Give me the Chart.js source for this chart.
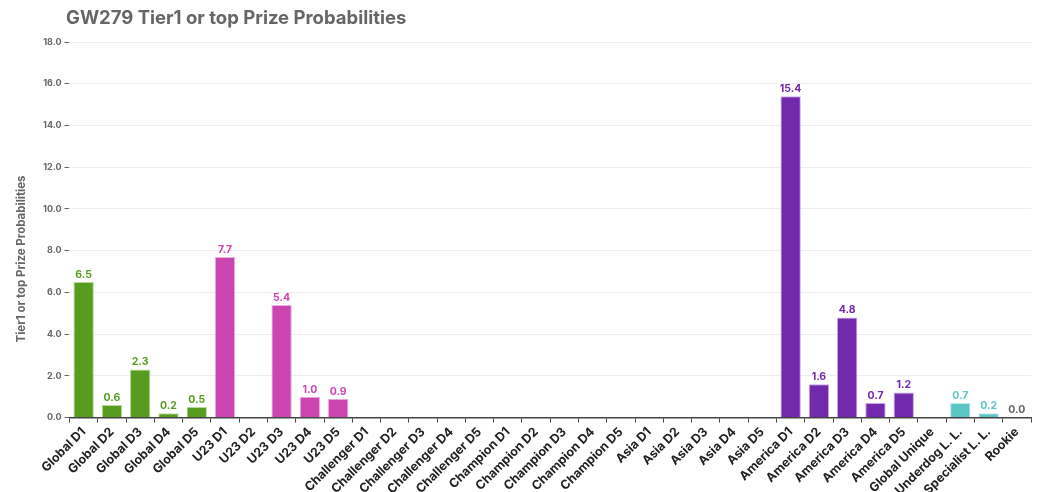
<!DOCTYPE html>
<html>
<head>
<meta charset="utf-8">
<title>GW279 Tier1 or top Prize Probabilities</title>
<script src="https://cdn.jsdelivr.net/npm/chart.js@4/dist/chart.umd.min.js"></script>
<style>
    html, body { margin: 0; padding: 0; background: #fff; }
    #wrap { width: 1050px; height: 492px; position: relative; }
</style>
</head>
<body>
<div id="wrap"><canvas id="probChart"></canvas></div>
<script>
// Categories and values
const categories = [
    'Global D1', 'Global D2', 'Global D3', 'Global D4', 'Global D5',
    'U23 D1', 'U23 D2', 'U23 D3', 'U23 D4', 'U23 D5',
    'Challenger D1', 'Challenger D2', 'Challenger D3', 'Challenger D4', 'Challenger D5',
    'Champion D1', 'Champion D2', 'Champion D3', 'Champion D4', 'Champion D5',
    'Asia D1', 'Asia D2', 'Asia D3', 'Asia D4', 'Asia D5',
    'America D1', 'America D2', 'America D3', 'America D4', 'America D5',
    'Global Unique', 'Underdog L. L.', 'Specialist L. L.', 'Rookie'
];
const probabilities = [
    6.5, 0.6, 2.3, 0.2, 0.5,
    7.7, 0, 5.4, 1.0, 0.9,
    0, 0, 0, 0, 0,
    0, 0, 0, 0, 0,
    0, 0, 0, 0, 0,
    15.4, 1.6, 4.8, 0.7, 1.2,
    0, 0.7, 0.2, 0
];
// which competition group each category belongs to
const groups = [
    'global', 'global', 'global', 'global', 'global',
    'u23', 'u23', 'u23', 'u23', 'u23',
    'challenger', 'challenger', 'challenger', 'challenger', 'challenger',
    'champion', 'champion', 'champion', 'champion', 'champion',
    'asia', 'asia', 'asia', 'asia', 'asia',
    'america', 'america', 'america', 'america', 'america',
    'league', 'league', 'league', 'rookie'
];
// value labels are shown only for these categories
const labelled = [
    true, true, true, true, true,
    true, false, true, true, true,
    false, false, false, false, false,
    false, false, false, false, false,
    false, false, false, false, false,
    true, true, true, true, true,
    false, true, true, true
];
const yTicks = [0, 2, 4, 6, 8, 10, 12, 14, 16, 18];

// Colours per group
const groupColors = {
    global: '#589c1f',
    u23: '#cc46b2',
    challenger: '#cc46b2',
    champion: '#cc46b2',
    asia: '#7229ac',
    america: '#7229ac',
    league: '#5bc5c5',
    rookie: '#666666'
};
const groupBorders = {
    global: '#b5d99a',
    u23: '#ecb0e0',
    challenger: '#ecb0e0',
    champion: '#ecb0e0',
    asia: '#c7a8e3',
    america: '#c7a8e3',
    league: '#b9ecec',
    rookie: '#cccccc'
};

const FONT = 'Inter, "Open Sans", sans-serif';

// Value labels above bars
const valueLabels = {
    id: 'valueLabels',
    afterDatasetsDraw(chart) {
        const ctx = chart.ctx;
        const meta = chart.getDatasetMeta(0);
        ctx.save();
        ctx.font = 'bold 10.5px ' + FONT;
        ctx.textAlign = 'center';
        ctx.textBaseline = 'bottom';
        meta.data.forEach(function(bar, i) {
            if (!labelled[i]) return;
            ctx.fillStyle = groupColors[groups[i]];
            ctx.fillText(probabilities[i].toFixed(1), bar.x, bar.y - 2);
        });
        ctx.restore();
    }
};

// Chart title and y axis title
const titles = {
    id: 'titles',
    afterDraw(chart) {
        const ctx = chart.ctx;
        ctx.save();
        ctx.fillStyle = '#666';
        ctx.font = 'bold 18.5px ' + FONT;
        ctx.textAlign = 'left';
        ctx.textBaseline = 'middle';
        ctx.fillText('GW279 Tier1 or top Prize Probabilities', 66, 18);

        ctx.font = 'bold 11.5px ' + FONT;
        ctx.translate(22, 259);
        ctx.rotate(-Math.PI / 2);
        ctx.textAlign = 'center';
        ctx.fillText('Tier1 or top Prize Probabilities', 0, 0);
        ctx.restore();
    }
};

function initProbChart() {
    const ctx = document.getElementById('probChart');
    new Chart(ctx, {
        type: 'bar',
        data: {
            labels: categories,
            datasets: [{
                label: 'Tier1 or top Prize Probabilities',
                data: probabilities,
                backgroundColor: groups.map(g => groupColors[g]),
                borderColor: groups.map(g => groupBorders[g]),
                borderWidth: 1,
                barPercentage: 0.72,
                categoryPercentage: 1.0
            }]
        },
        options: {
            responsive: true,
            maintainAspectRatio: false,
            animation: false,
            layout: {
                padding: { top: 42, left: 40, right: 19, bottom: -8 }
            },
            scales: {
                y: {
                    min: 0,
                    max: 18,
                    afterBuildTicks: function(axis) {
                        axis.ticks = yTicks.map(v => ({ value: v }));
                    },
                    ticks: {
                        color: '#666',
                        padding: 3,
                        font: { size: 9, weight: 'bold', family: FONT },
                        callback: function(value) {
                            return value.toFixed(1);
                        }
                    },
                    grid: {
                        color: '#eeeeee',
                        tickColor: '#666',
                        tickLength: 5
                    },
                    border: { display: false }
                },
                x: {
                    ticks: {
                        color: '#222',
                        minRotation: 45,
                        maxRotation: 45,
                        autoSkip: false,
                        padding: 2,
                        font: { size: 12.5, weight: 'bold', family: FONT }
                    },
                    grid: {
                        drawOnChartArea: false,
                        tickColor: '#444',
                        tickLength: 5
                    },
                    border: { color: '#444', width: 1.5 }
                }
            },
            plugins: {
                legend: { display: false },
                title: { display: false },
                tooltip: { enabled: true }
            }
        },
        plugins: [valueLabels, titles]
    });
}

document.addEventListener('DOMContentLoaded', initProbChart);
</script>
</body>
</html>
